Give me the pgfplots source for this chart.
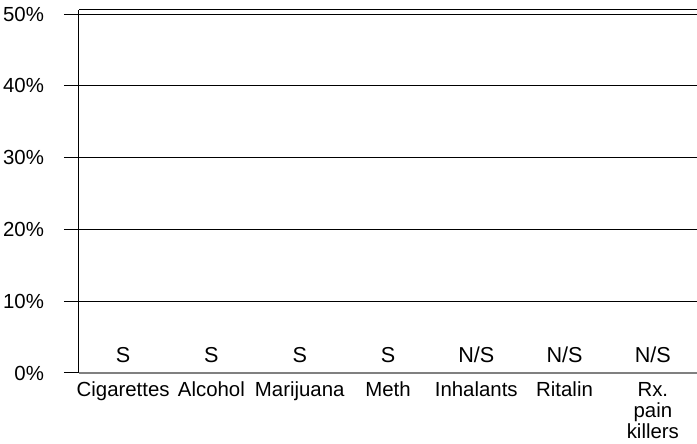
\documentclass[border=0pt]{standalone}
\usepackage{fontspec}
\setmainfont{Liberation Sans}
\usepackage{pgfplots}
\pgfplotsset{compat=1.18}
\begin{document}
\begin{tikzpicture}
\begin{axis}[
  at={(0,0)}, anchor=south west,
  scale only axis, width=309pt, height=181.5pt,
  xmin=-0.5, xmax=6.5, ymin=0, ymax=50.56,
  axis x line*=bottom, axis y line*=left,
  x axis line style={draw=gray, line width=1pt},
  y axis line style={draw=black, line width=0.5pt},
  xtick={0,1,2,3,4,5,6},
  xticklabels={Cigarettes,Alcohol,Marijuana,Meth,Inhalants,Ritalin,{Rx.\\pain\\killers}},
  xtick style={draw=none},
  xticklabel shift=-6.5pt,
  ticklabel style={font=\fontsize{10.2}{12}\selectfont},
  xticklabel style={align=center, font=\fontsize{10.2}{10.6}\selectfont},
  yticklabel style={xshift=-6.5pt},
  ytick={0,10,20,30,40,50},
  yticklabel={\pgfmathprintnumber{\tick}\%},
  /pgf/number format/assume math mode=true,
  tick align=outside, major tick length=7.5pt,
  ytick style={draw=black, line width=0.5pt},
  ymajorgrids, grid style={draw=black, line width=0.5pt},
]
\addplot[draw=none, mark=none, nodes near coords, point meta=explicit symbolic,
  nodes near coords style={anchor=base, yshift=5pt, font=\fontsize{10.8}{12}\selectfont}]
  coordinates {(0,0)[S] (1,0)[S] (2,0)[S] (3,0)[S] (4,0)[N/S] (5,0)[N/S] (6,0)[N/S]};
\draw[black, line width=0.5pt] (rel axis cs:0,1) -- (rel axis cs:1,1);
\end{axis}
\pgfresetboundingbox
\path[use as bounding box] (-39.5pt,-35.5pt) rectangle (309pt,186.5pt);
\end{tikzpicture}
\end{document}
